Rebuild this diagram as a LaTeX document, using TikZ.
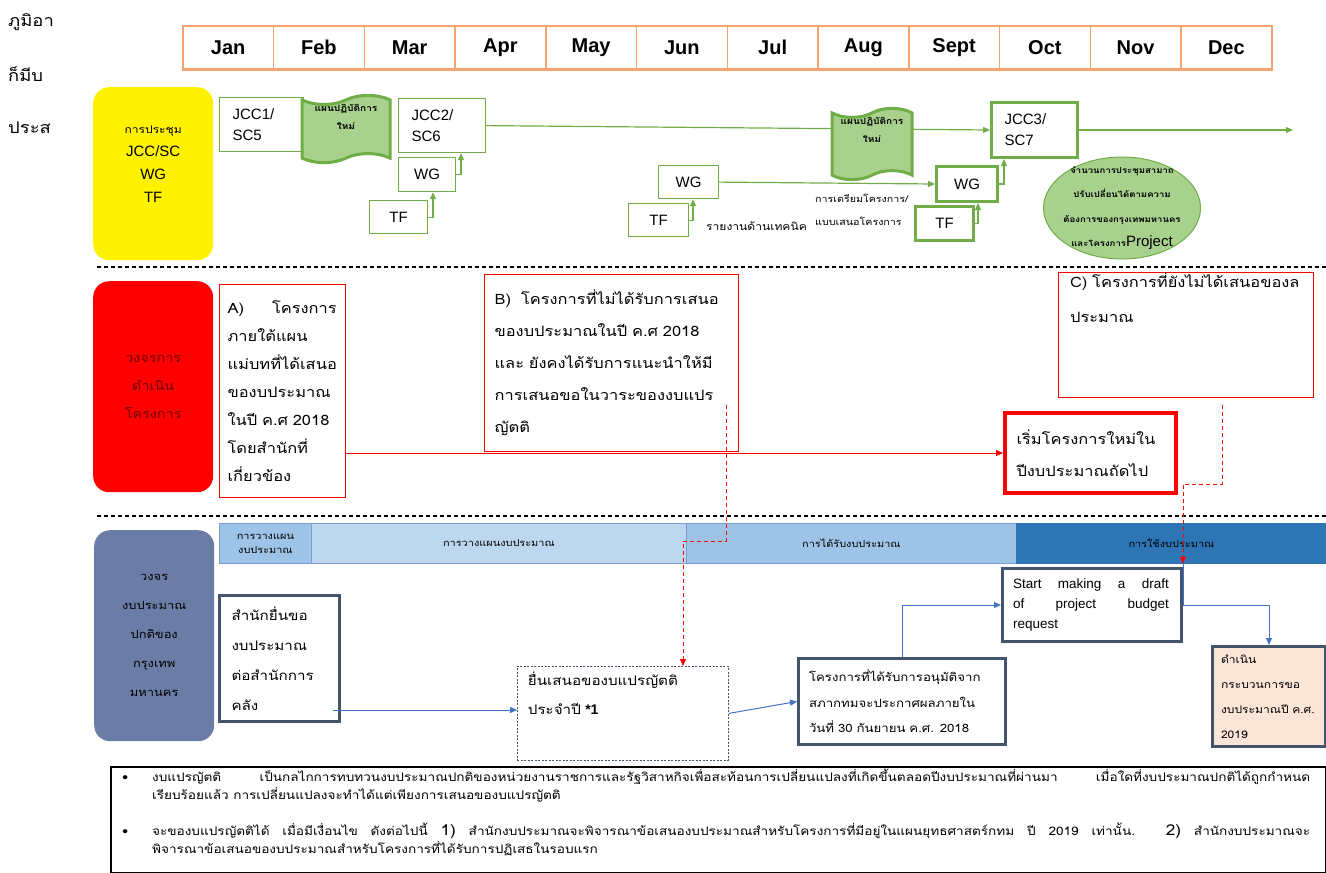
\documentclass[tikz,border=0pt]{standalone}
\usepackage{fontspec}
\setmainfont{Liberation Sans}
\newfontfamily\thai[Script=Thai,FakeStretch=1.15]{Loma}
\usepackage{xcolor}
\usetikzlibrary{arrows.meta,shapes.symbols,shapes.geometric,calc}

\definecolor{gline}{HTML}{70AD47}
\definecolor{gfill}{HTML}{A9D18E}
\definecolor{orng}{HTML}{F4A46E}
\definecolor{slate}{HTML}{6B7CA6}
\definecolor{navy}{HTML}{44546A}
\definecolor{bline}{HTML}{4472C4}
\definecolor{barA}{HTML}{9DC3E6}
\definecolor{barB}{HTML}{BDD7EE}
\definecolor{barC}{HTML}{2E75B6}
\definecolor{peach}{HTML}{FBE5D6}
\definecolor{dred}{HTML}{6A0000}

\tikzset{
  month/.style={draw=orng, line width=1.5pt, minimum width=90.75pt, minimum height=43pt,
    anchor=north west, inner sep=0pt, font=\bfseries\fontsize{20}{24}\selectfont},
  rowlabel/.style={rounded corners=16pt, anchor=north west, inner sep=0pt,
    minimum width=120pt, align=center},
  gbox/.style={draw=gline, line width=1.2pt, fill=white, anchor=north west, inner sep=0pt,
    font=\fontsize{15}{21}\selectfont},
  gthick/.style={gbox, line width=3pt},
  wave/.style={tape, draw=gline, line width=3pt, fill=gfill, inner sep=0pt, tape bend height=9pt,
    align=center, font=\thai\bfseries\fontsize{8.8}{18}\selectfont},
  garrow/.style={draw=gline, line width=1.2pt, ->},
  rbox/.style={draw=red, line width=1.2pt, anchor=north west, inner sep=0pt, align=left},
  rarrow/.style={draw=red, line width=1pt, ->},
  rdash/.style={draw=red, line width=1pt, dash pattern=on 4pt off 3pt, ->},
  nbox/.style={draw=navy, line width=3pt, fill=white, anchor=north west, inner sep=0pt, align=left},
  barbox/.style={draw=bline!70, line width=0.8pt, minimum height=40pt, anchor=north west, inner sep=0pt,
    align=center, font=\thai\fontsize{9.5}{14}\selectfont},
  barrow/.style={draw=bline, line width=1pt, ->},
  sepline/.style={line width=1.5pt, dash pattern=on 4pt off 3pt},
  frag/.style={anchor=west, inner sep=0pt, font=\thai\fontsize{16}{20}\selectfont}
}

\begin{document}
\begin{tikzpicture}[x=1pt, y=-1pt, >={Triangle[length=7pt,width=6pt]}]
\useasboundingbox (0,0) rectangle (1326,873);

% cut-off page text on the left
\node[frag] (f1) at (8,22) {ภูมิอา};
\node[frag] (f2) at (8,74) {ก็มีบ};
\node[frag] (f3) at (8,128) {ประส};

% month bar
\foreach \m [count=\i from 0] in {Jan,Feb,Mar,Apr,May,Jun,Jul,Aug,Sept,Oct,Nov,Dec}
  \node[month] (m\i) at ({182+90.75*\i},25) {\m};
\draw[orng, line width=2.5pt] (m0.south west) -- (m11.south east);

% row separators
\draw[sepline] (97,267) -- (1326,267);
\draw[sepline] (97,516) -- (1326,516);

% row labels
\node[rowlabel, fill=yellow, minimum height=173pt, font=\fontsize{15}{23}\selectfont] (lmeet) at (93,87)
  {{\thai\fontsize{10.5}{23}\selectfont การประชุม}\\JCC/SC\\WG\\TF\\[-4pt]\mbox{}};
\node[rowlabel, fill=red, minimum height=211pt, text=dred, font=\thai\fontsize{12.5}{28}\selectfont] (lproj) at (93,281)
  {วงจรการ\\ดำเนิน\\โครงการ};
\node[rowlabel, fill=slate, minimum height=211pt, font=\thai\fontsize{11.2}{29}\selectfont] (lbud) at (94,530)
  {วงจร\\งบประมาณ\\ปกติของ\\กรุงเทพ\\มหานคร};

% meetings
\node[gbox, minimum width=84pt, minimum height=54pt, text width=58pt, align=left] (jcc1) at (219,97) {JCC1/\\SC5};
\node[wave, minimum width=88pt, minimum height=55pt] (plan1) at (346,129) {แผนปฏิบัติการ\\ใหม่\\[6pt]};
\node[gbox, minimum width=87pt, minimum height=54pt, text width=61pt, align=left] (jcc2) at (398,98) {JCC2/\\SC6};
\node[gbox, minimum width=57pt, minimum height=34pt] (wg1) at (398,157) {WG};
\node[gbox, minimum width=58pt, minimum height=33pt] (tf1) at (369,200) {TF};
\node[gbox, minimum width=60pt, minimum height=33pt] (wg2) at (658,165) {WG};
\node[gbox, minimum width=60pt, minimum height=33pt] (tf2) at (628,203) {TF};
\node[gthick, minimum width=86pt, minimum height=55pt, text width=60pt, align=left] (jcc3) at (990,101) {JCC3/\\SC7};
\node[gthick, minimum width=61pt, minimum height=35pt] (wg3) at (935,165) {WG};
\node[gthick, minimum width=58pt, minimum height=34pt] (tf3) at (914,205) {TF};

\draw[garrow] (jcc2.east) -- (jcc3.west);
\node[wave, minimum width=80pt, minimum height=63pt] (plan2) at (872,144) {แผนปฏิบัติการ\\ใหม่\\[10pt]};
\draw[garrow] (wg1.east) -| ($(jcc2.south west)+(63,0)$);
\draw[garrow] (tf1.east) -| ($(wg1.south west)+(35,0)$);
\draw[garrow] (tf2.east) -| ($(wg2.south west)+(35,0)$);
\draw[garrow] (wg2.east) -- (wg3.west);
\draw[garrow] (wg3.east) -| ($(jcc3.south west)+(14,0)$);
\draw[garrow] (tf3.east) -| ($(wg3.south west)+(43,0)$);
\coordinate (tend) at (1293,131);
\draw[garrow] (jcc3.east) -- (jcc3.east -| tend);

\node[anchor=west, inner sep=0pt, font=\thai\fontsize{10.5}{14}\selectfont] (tech) at (706,226) {รายงานด้านเทคนิค};
\node[anchor=west, inner sep=0pt, align=left, font=\thai\fontsize{9.3}{23}\selectfont] (prep) at (815,210)
  {การเตรียมโครงการ/\\แบบเสนอโครงการ};
\node[ellipse, draw=gline, fill=gfill, line width=1pt, minimum width=157pt, minimum height=102pt,
  inner xsep=-4pt, inner ysep=-10pt,
  align=center, font=\thai\bfseries\fontsize{8.3}{24.5}\selectfont] (note1) at (1122,208)
  {จำนวนการประชุมสามาถ\\ปรับเปลี่ยนได้ตามความ\\ต้องการของกรุงเทพมหานคร\\และโครงการ{\normalfont\rmfamily\fontsize{15}{15}\selectfont Project}};

% project cycle
\node[rbox, minimum width=126pt, minimum height=213pt, text width=110pt, font=\thai\fontsize{14.3}{28}\selectfont] (pa) at (219,284)
  {A)\hspace{28pt}โครงการ\\ภายใต้แผน\\แม่บทที่ได้เสนอ\\ของบประมาณ\\ในปี ค.ศ 2018\\โดยสำนักที่\\เกี่ยวข้อง};
\node[rbox, minimum width=254pt, minimum height=177pt, text width=234pt, font=\thai\fontsize{14.3}{32}\selectfont] (pb) at (484,274)
  {B)\hspace{10pt}โครงการที่ไม่ได้รับการเสนอ\\ของบประมาณในปี ค.ศ 2018\\และ ยังคงได้รับการแนะนำให้มี\\การเสนอขอในวาระของงบแปร\\ญัตติ};
\node[rbox, minimum width=255pt, minimum height=124pt, text width=232pt, font=\thai\fontsize{14.3}{35}\selectfont] (pc) at (1058,272)
  {C) โครงการที่ยังไม่ได้เสนอของล\\ประมาณ\\[40pt]~};
\node[rbox, line width=4pt, minimum width=171pt, minimum height=80pt, text width=148pt, font=\thai\fontsize{14.3}{32}\selectfont] (pnew) at (1003,411)
  {เริ่มโครงการใหม่ใน\\ปีงบประมาณถัดไป};
\draw[rarrow] (pnew.west -| pa.east) -- (pnew.west);

% budget cycle
\node[barbox, fill=barA, minimum width=92pt] (bar1) at (219,523) {การวางแผน\\งบประมาณ};
\node[barbox, fill=barB, minimum width=375pt] (bar2) at (311,523) {การวางแผนงบประมาณ};
\node[barbox, fill=barA, minimum width=330pt] (bar3) at (686,523) {การได้รับงบประมาณ};
\node[barbox, fill=barC, draw=barC, minimum width=310pt] (bar4) at (1016,523) {การใช้งบประมาณ};

\node[nbox, minimum width=120pt, minimum height=126pt, text width=96pt, font=\thai\fontsize{13.2}{30}\selectfont] (req) at (218,594)
  {สำนักยื่นขอ\\งบประมาณ\\ต่อสำนักการ\\คลัง};
\node[nbox, draw=navy, line width=0.8pt, dash pattern=on 2pt off 1.5pt, minimum width=211pt, minimum height=94pt, text width=190pt,
  font=\thai\fontsize{13.2}{29}\selectfont] (sub) at (517,666)
  {ยื่นเสนอของบแปรญัตติ\\ประจำปี {\normalfont\rmfamily\bfseries\fontsize{14}{14}\selectfont *1}\\[12pt]~};
\node[nbox, minimum width=207pt, minimum height=86pt, text width=186pt, font=\thai\fontsize{11.5}{25.5}\selectfont] (appr) at (797,657)
  {โครงการที่ได้รับการอนุมัติจาก\\สภากทมจะประกาศผลภายใน\\วันที่ 30 กันยายน ค.ศ. 2018};
\node[nbox, minimum width=179pt, minimum height=73pt, text width=158pt, font=\fontsize{13.5}{20}\selectfont] (start) at (1001,567)
  {\makebox[156pt]{Start\hfill making\hfill a\hfill draft}\\\makebox[156pt]{of\hfill project\hfill budget}\\request};
\node[nbox, fill=peach, minimum width=113pt, minimum height=100pt, text width=96pt, font=\thai\fontsize{10.5}{25}\selectfont] (peachbox) at (1211,645)
  {ดำเนิน\\กระบวนการขอ\\งบประมาณปี ค.ศ.\\2019};

\draw[barrow] ($(req.south east)+(-8,-13)$) coordinate (r1) -- (r1 -| sub.west);
\draw[barrow] (sub.east) -- (appr.west);
\draw[barrow] (appr.north) |- (start.west);
\draw[barrow] (bar4.south -| start.east) -- (start.east) -| (peachbox.north);

% dashed links down from B and C
\coordinate (bdrop) at (726,405);
\coordinate (bturn) at (683,541);
\draw[rdash] (bdrop) |- (bturn) -- (bturn |- sub.north);
\coordinate (cdrop) at (1222,405);
\coordinate (cturn) at (1183,484);
\draw[rdash] (cdrop) |- (cturn) -- (cturn |- bar4.south);

% note at the bottom
\node[draw, line width=2pt, anchor=north west, minimum width=1215pt, minimum height=106pt, inner sep=0pt] (notebox) at (110,766) {};
\node[anchor=north west, inner sep=0pt, align=left, font=\thai\fontsize{11.8}{18}\selectfont] (notetext) at (122,769)
  {\makebox[30pt][l]{\textbullet}\makebox[1158pt][s]{งบแปรญัตติ\hspace{12pt} เป็นกลไกการทบทวนงบประมาณปกติของหน่วยงานราชการและรัฐวิสาหกิจเพื่อสะท้อนการเปลี่ยนแปลงที่เกิดขึ้นตลอดปีงบประมาณที่ผ่านมา\hspace{12pt} เมื่อใดที่งบประมาณปกติได้ถูกกำหนด}\\
   \hspace*{30pt}เรียบร้อยแล้ว การเปลี่ยนแปลงจะทำได้แต่เพียงการเสนอของบแปรญัตติ\\[18pt]
   \makebox[30pt][l]{\textbullet}\makebox[1158pt][s]{จะของบแปรญัตติได้ เมื่อมีเงื่อนไข ดังต่อไปนี้ {\fontsize{15}{15}\selectfont 1)} สำนักงบประมาณจะพิจารณาข้อเสนองบประมาณสำหรับโครงการที่มีอยู่ในแผนยุทธศาสตร์กทม ปี 2019 เท่านั้น. {\fontsize{15}{15}\selectfont 2)} สำนักงบประมาณจะ}\\
   \hspace*{30pt}พิจารณาข้อเสนอของบประมาณสำหรับโครงการที่ได้รับการปฏิเสธในรอบแรก};
\end{tikzpicture}
\end{document}
